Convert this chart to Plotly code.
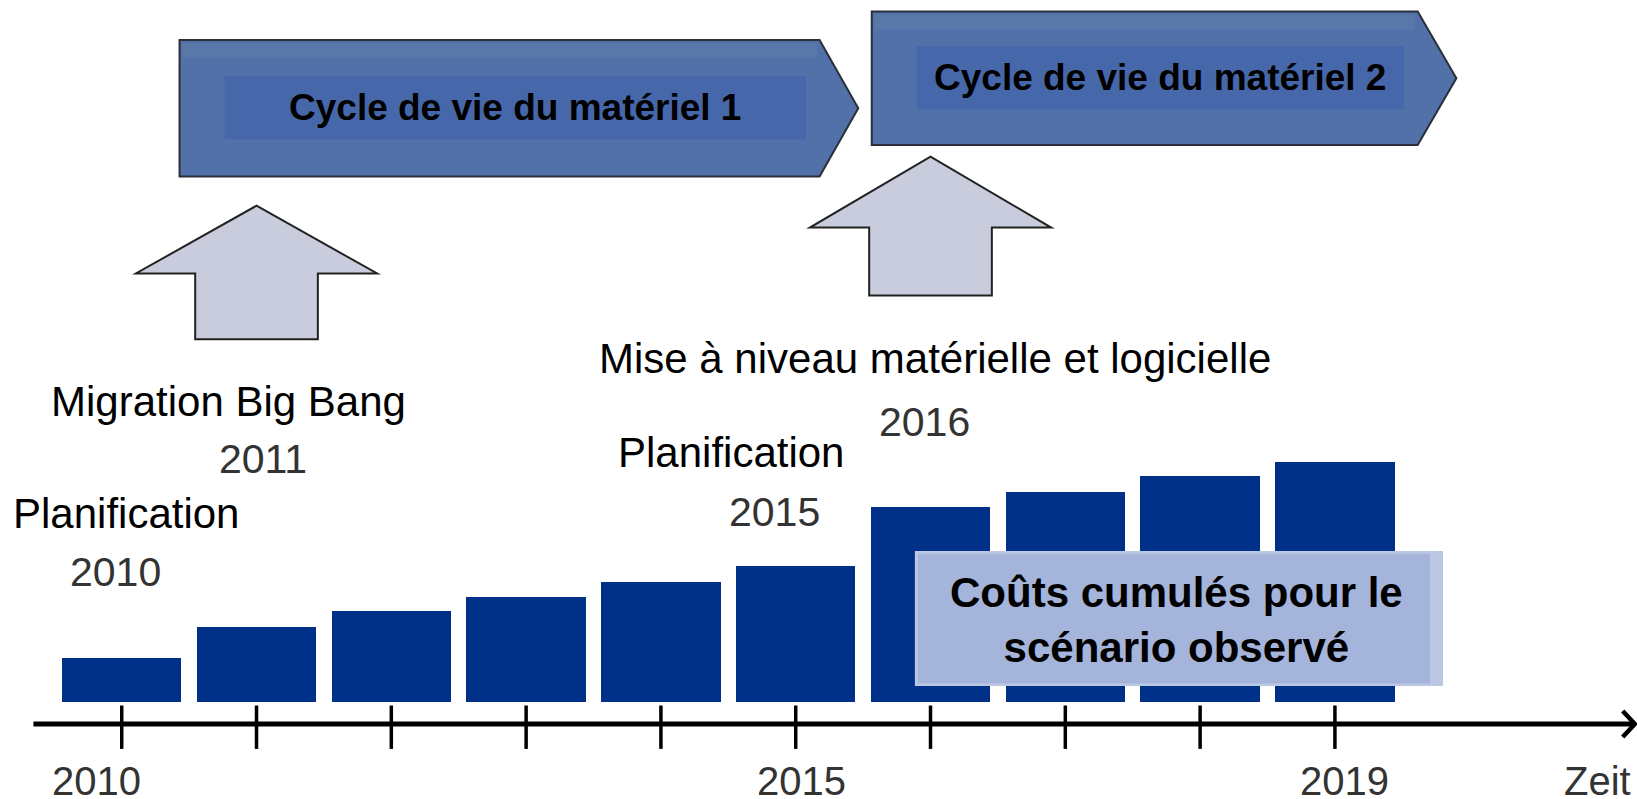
import plotly.graph_objects as go

# ---------------- data ----------------
years = [2010, 2011, 2012, 2013, 2014, 2015, 2016, 2017, 2018, 2019]
cumulative_costs = [43.8, 75.2, 90.8, 104.4, 120.0, 135.7, 195.2, 209.8, 225.5, 240.1]

axis_labels = ["2010", "2015", "2019", "Zeit"]
axis_label_x = [2009.81, 2015.045, 2019.069, 2020.946]

event_texts = ["Planification", "2010", "Migration Big Bang", "2011",
               "Planification", "2015", "Mise à niveau matérielle et logicielle", "2016"]
event_x = [2010.03, 2009.957, 2010.793, 2011.049, 2014.519, 2014.844, 2016.036, 2015.959]
event_y = [188.1, 129.6, 299.8, 242.3, 249.7, 190.1, 343.6, 279.9]
event_colors = ["#000000", "#333333", "#000000", "#333333",
                "#000000", "#333333", "#000000", "#333333"]

lifecycle_labels = ["Cycle de vie du matériel 1", "Cycle de vie du matériel 2"]
lifecycle_start = [2010.429, 2015.564]
lifecycle_corner = [2015.177, 2019.614]
lifecycle_tip = [2015.464, 2019.901]
lifecycle_top = [661.7, 690.2]
lifecycle_bottom = [525.3, 556.6]

upgrade_years = [2011, 2016]
upgrade_tip = [496.0, 545.1]
upgrade_shoulder = [428.2, 474.1]
upgrade_bottom = [362.4, 406.2]

box_text = "Coûts cumulés pour le<br>scénario observé"

FONT = "Liberation Sans, Arial, Helvetica, sans-serif"
BAR_COLOR = "#003087"

fig = go.Figure()

# bars
fig.add_trace(go.Bar(x=years, y=cumulative_costs, width=0.885,
                     marker=dict(color=BAR_COLOR, line=dict(width=0)),
                     hoverinfo="skip", showlegend=False))

# time axis line
AXIS_Y = -22.3
x0_axis, x1_axis = 2009.345, 2021.225
fig.add_shape(type="line", x0=x0_axis, x1=x1_axis - 0.01, y0=AXIS_Y, y1=AXIS_Y,
              xref="x", yref="y", line=dict(color="black", width=5))
fig.add_trace(go.Scatter(x=[x1_axis - 0.09, x1_axis, x1_axis - 0.09],
                         y=[AXIS_Y + 13, AXIS_Y, AXIS_Y - 13],
                         mode="lines", line=dict(color="black", width=4.5),
                         hoverinfo="skip", showlegend=False))
# ticks
fig.add_trace(go.Scatter(x=years, y=[AXIS_Y - 3.2] * len(years), mode="markers",
                         marker=dict(symbol="line-ns", size=31,
                                     line=dict(color="black", width=3.5)),
                         hoverinfo="skip", showlegend=False))

# lifecycle arrows (top)
for i, lab in enumerate(lifecycle_labels):
    xs, xc, xt = lifecycle_start[i], lifecycle_corner[i], lifecycle_tip[i]
    yt, yb = lifecycle_top[i], lifecycle_bottom[i]
    ym = (yt + yb) / 2
    path = f"M {xs},{yb} L {xs},{yt} L {xc},{yt} L {xt},{ym} L {xc},{yb} Z"
    fig.add_shape(type="path", path=path, xref="x", yref="y",
                  fillcolor="#5171a8", line=dict(color="#2a2f3a", width=2), layer="below")
    # subtle lighter band near top
    fig.add_shape(type="rect", x0=xs + 0.02, x1=xc - 0.02, y0=yt - 18, y1=yt - 3,
                  xref="x", yref="y", fillcolor="rgba(120,140,175,0.25)",
                  line=dict(width=0), layer="below")
    # inner rectangle
    fig.add_shape(type="rect", x0=xs + 0.334, x1=xc - 0.10,
                  y0=ym - 31, y1=ym + 32, xref="x", yref="y",
                  fillcolor="#4767ab", line=dict(width=0), layer="below")
    fig.add_annotation(x=(xs + 0.334 + xc - 0.10) / 2, y=ym + 1, text=f"<b>{lab}</b>",
                       showarrow=False, xref="x", yref="y", xanchor="center", yanchor="middle",
                       font=dict(family=FONT, size=37, color="#000000"))

# upgrade arrows (upward block arrows)
for i, yr in enumerate(upgrade_years):
    sw, hw = 0.455, 0.895
    path = (f"M {yr - sw},{upgrade_bottom[i]} L {yr - sw},{upgrade_shoulder[i]} "
            f"L {yr - hw},{upgrade_shoulder[i]} L {yr},{upgrade_tip[i]} "
            f"L {yr + hw},{upgrade_shoulder[i]} L {yr + sw},{upgrade_shoulder[i]} "
            f"L {yr + sw},{upgrade_bottom[i]} Z")
    fig.add_shape(type="path", path=path, xref="x", yref="y",
                  fillcolor="#c9ccdd", line=dict(color="#222222", width=2), layer="below")

# event labels
for t, x, y, c in zip(event_texts, event_x, event_y, event_colors):
    size = 42 if not t.isdigit() else 41
    fig.add_annotation(x=x, y=y, text=t, showarrow=False, xref="x", yref="y",
                       xanchor="center", yanchor="middle",
                       font=dict(family=FONT, size=size, color=c))

# cost box
fig.add_shape(type="rect", x0=2015.884, x1=2019.802, y0=15.7, y1=150.7,
              xref="x", yref="y", fillcolor="#bcc7e4", line=dict(width=0))
fig.add_shape(type="rect", x0=2015.906, x1=2019.706, y0=18.2, y1=148.0,
              xref="x", yref="y", fillcolor="#a4b4da", line=dict(width=0))
fig.add_annotation(x=2017.826, y=81.5, text=f"<b>{box_text}</b>", showarrow=False,
                   xref="x", yref="y", xanchor="center", yanchor="middle",
                   font=dict(family=FONT, size=42, color="#000000"))

# axis labels
for t, x in zip(axis_labels, axis_label_x):
    fig.add_annotation(x=x, y=-79.3, text=t, showarrow=False, xref="x", yref="y",
                       xanchor="center", yanchor="middle",
                       font=dict(family=FONT, size=40, color="#333333"))

fig.update_layout(
    width=1637, height=799, autosize=False,
    margin=dict(l=0, r=0, t=0, b=0, pad=0),
    paper_bgcolor="white", plot_bgcolor="white",
    xaxis=dict(range=[2009.097, 2021.241], visible=False, fixedrange=True),
    yaxis=dict(range=[-97.3, 701.7], visible=False, fixedrange=True),
    showlegend=False, bargap=0,
)

fig.write_html("out.html", config={"displayModeBar": False},
               post_script="document.body.style.margin='0';document.body.style.padding='0';"
                           "document.body.style.overflow='hidden';")
